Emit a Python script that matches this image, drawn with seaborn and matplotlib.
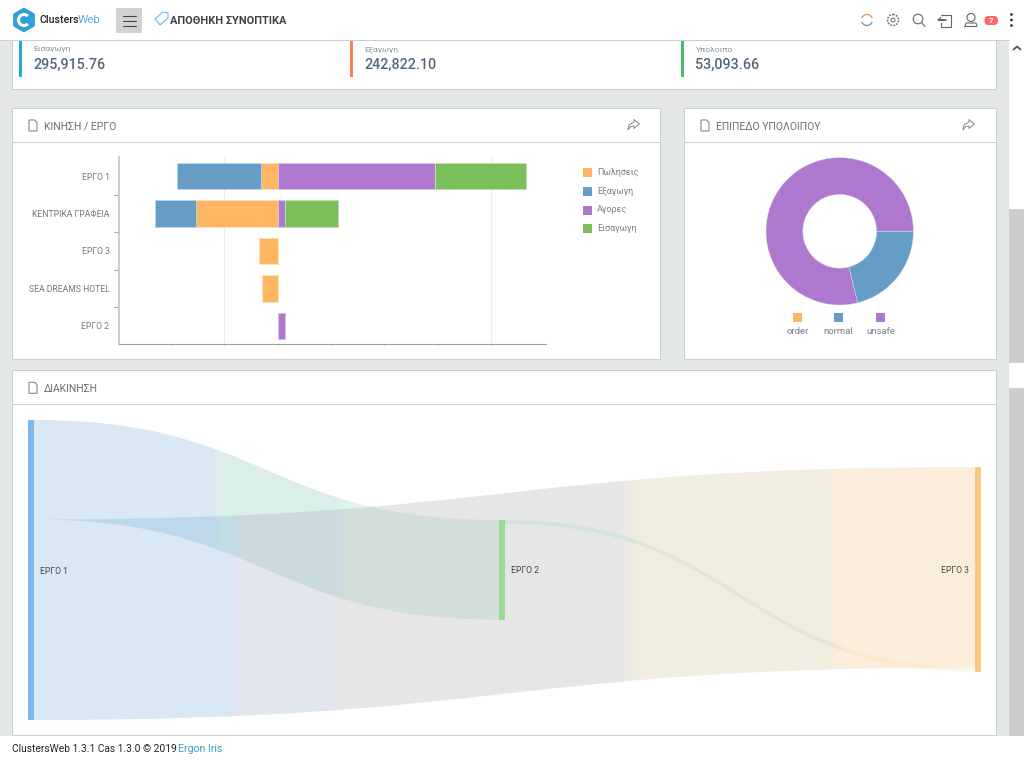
import numpy as np
import pandas as pd
import matplotlib
matplotlib.use("Agg")
import matplotlib.pyplot as plt
import seaborn as sns
from matplotlib.patches import Rectangle, PathPatch, FancyBboxPatch, Circle, RegularPolygon, Arc, Polygon
from matplotlib.path import Path

# totals on the top strip
card_labels = ["Εισαγωγη", "Εξαγωγη", "Υπολοιπο"]
card_values = ["295,915.76", "242,822.10", "53,093.66"]

# stacked bars
projects = ["ΕΡΓΟ 1", "ΚΕΝΤΡΙΚΑ ΓΡΑΦΕΙΑ", "ΕΡΓΟ 3", "SEA DREAMS HOTEL", "ΕΡΓΟ 2"]
sales = [-30600, -152500, -34300, -29600, 0]
exports = [-157600, -76900, 0, 0, 0]
purchases = [294500, 13500, 0, 0, 14400]
imports = [170700, 100400, 0, 0, 0]
bar_ticks = [-200000, -100000, 0, 100000, 200000, 300000, 400000]
bar_grid = [-100000, 400000]
legend_names = ["Πωλησεις", "Εξαγωγη", "Αγορες", "Εισαγωγη"]

# donut
level_names = ["order", "normal", "unsafe"]
level_values = [0, 21.06, 78.94]

# sankey
node_names = ["ΕΡΓΟ 1", "ΕΡΓΟ 2", "ΕΡΓΟ 3"]
flow_source = ["ΕΡΓΟ 1", "ΕΡΓΟ 1", "ΕΡΓΟ 2"]
flow_target = ["ΕΡΓΟ 2", "ΕΡΓΟ 3", "ΕΡΓΟ 3"]
flow_value = [99.5, 200.5, 4.0]

W, H = 1024, 768
ORANGE = "#ffb662"
BLUE = "#669dc7"
PURPLE = "#ae78ce"
GREEN = "#7bbf5b"
BORDER = "#c3d1dc"
PAGE = "#e5e6e6"
TITLE = "#666d73"

sns.set_theme(style="white")
plt.rcParams["font.family"] = ["Roboto", "DejaVu Sans"]


def px_axes(fig, left, top, right, bottom, **kw):
    return fig.add_axes([left / W, 1 - bottom / H, (right - left) / W, (bottom - top) / H], **kw)


def px(size):
    return size * 0.72


def panel(ax, x0, y0, x1, y1, head=None, title=None, share=None):
    ax.add_patch(Rectangle((x0 - 0.7, y0 - 0.7), x1 - x0, y1 - y0, fc="white", ec=BORDER, lw=0.75))
    if head:
        ax.plot([x0 - 0.7, x1 - 0.7], [head - 0.7, head - 0.7], color=BORDER, lw=0.75)
    if title:
        tx = x0 + 16.5
        yc = (y0 + head) / 2
        ax.add_patch(Polygon([(tx, yc - 5.5), (tx + 5.5, yc - 5.5), (tx + 8, yc - 3), (tx + 8, yc + 5.5), (tx, yc + 5.5)],
                             fc="white", ec="#777777", lw=0.7))
        ax.text(x0 + 31.5, yc + 1, title, fontsize=px(10.4), color=TITLE, va="center", ha="left")
    if share:
        ax.plot([share - 6, share - 5, share, share, share + 5.5, share, share, share - 3, share - 6],
                [129.5, 125, 122, 119.5, 124, 128.5, 126, 126.5, 129.5], color="#888888", lw=0.7)


fig = plt.figure(figsize=(W / 100, H / 100), dpi=100, facecolor="white")

# page furniture, drawn in pixel coordinates
bg = px_axes(fig, 0, 0, W, H, zorder=0)
bg.set_xlim(0, W)
bg.set_ylim(H, 0)
bg.axis("off")

bg.add_patch(Rectangle((0, 41), 1009, 695, fc=PAGE, ec="none"))
bg.add_patch(Rectangle((1009, 209), 15, 154, fc="#cdcdcd", ec="none"))
bg.add_patch(Rectangle((1009, 388), 15, 348, fc="#cdcdcd", ec="none"))
bg.plot([1013.5, 1017, 1020.5], [49.5, 46.5, 49.5], color="#555555", lw=1.3)

panel(bg, 12.5, 30, 997, 89.5)
card_x = [19, 350, 681]
card_col = ["#27a9d8", "#ff7e4d", "#4cb870"]
for cx, lab, val, col in zip(card_x, card_labels, card_values, card_col):
    bg.add_patch(Rectangle((cx, 41), 3, 36, fc=col, ec="none"))
    bg.text(cx + 14.5, 49.5, lab, fontsize=px(8.5), color="#8a9298", va="center")
    bg.text(cx + 14.5, 65, val, fontsize=px(14.3), color="#54677a", va="center", fontweight="medium")

panel(bg, 12.5, 108.5, 660.5, 360, 142.5, "ΚΙΝΗΣΗ / ΕΡΓΟ", 634)
panel(bg, 684.5, 108.5, 997, 360, 142.5, "ΕΠΙΠΕΔΟ ΥΠΟΛΟΙΠΟΥ", 969)
panel(bg, 12.5, 371, 997, 735.5, 404.5, "ΔΙΑΚΙΝΗΣΗ")

# header bar
bg.add_patch(Rectangle((0, 0), W, 40, fc="white", ec="none"))
bg.plot([0, 1009], [39.8, 39.8], color=BORDER, lw=0.75)
bg.add_patch(RegularPolygon((24, 20), 6, radius=12.5, fc="#2e9fd8", ec="none"))
bg.add_patch(Arc((24, 20), 11, 11, theta1=45, theta2=315, ec="white", lw=2.2))
bg.text(39, 20, "Clusters", fontsize=px(10.6), color="#222222", va="center", fontweight="medium")
bg.text(78, 20, "Web", fontsize=px(11.5), color="#5aaee0", va="center")
bg.add_patch(FancyBboxPatch((116, 8), 26, 25, boxstyle="round,pad=0,rounding_size=1", fc="#d2d2d2", ec="none"))
for ly in [15.5, 20.5, 25.5]:
    bg.plot([123, 136], [ly, ly], color="#444444", lw=0.8)
bg.add_patch(Polygon([(155, 19), (163, 12), (168, 13), (168, 18), (160, 25)], fc="white", ec="#6cb9e6", lw=0.8))
bg.text(170, 20.5, "ΑΠΟΘΗΚΗ ΣΥΝΟΠΤΙΚΑ", fontsize=px(11), color="#3c4248", va="center", fontweight="bold")

bg.add_patch(Arc((867, 20), 11, 11, theta1=20, theta2=160, ec="#6a8fb0", lw=0.9))
bg.add_patch(Arc((867, 20), 11, 11, theta1=200, theta2=340, ec="#d09a60", lw=0.9))
bg.add_patch(Circle((893, 20), 5.5, fc="white", ec="#8a6a4a", lw=1.1, ls=(0, (1.2, 0.8))))
bg.add_patch(Circle((893, 20), 2, fc="white", ec="#666666", lw=0.7))
bg.add_patch(Circle((918, 19), 4.8, fc="white", ec="#666666", lw=0.8))
bg.plot([921.5, 925], [22.5, 26.5], color="#666666", lw=0.8)
bg.plot([941, 951, 951, 941, 941], [14.5, 14.5, 26.5, 26.5, 23], color="#666666", lw=0.8)
bg.plot([938, 946, 941, 938, 941], [20, 20, 20, 20, 17.5], color="#666666", lw=0.8)
bg.add_patch(Circle((971, 17.5), 4, fc="white", ec="#666666", lw=0.8))
bg.plot([965, 966, 976, 977, 965], [26.5, 23, 23, 26.5, 26.5], color="#666666", lw=0.8)
bg.add_patch(FancyBboxPatch((984.5, 16), 13.5, 9, boxstyle="round,pad=0,rounding_size=4", fc="#f96a6a", ec="none"))
bg.text(991, 20.5, "7", fontsize=px(8), color="white", ha="center", va="center", fontweight="bold")
for dy in [14.5, 20, 25.5]:
    bg.add_patch(Circle((1011.5, dy), 1.4, fc="#2f3a48", ec="none"))

# footer
bg.text(12, 749.5, "ClustersWeb 1.3.1 Cas 1.3.0 © 2019", fontsize=px(10.2), color="#222222", va="center")
bg.text(178.5, 749.5, "Ergon Iris", fontsize=px(10.5), color="#3c9ad6", va="center")

# stacked bars
ax = px_axes(fig, 118.5, 157.5, 545.5, 344.5, zorder=2)
ax.patch.set_visible(False)
df = pd.DataFrame({"project": projects, "sales": sales, "exports": exports,
                   "purchases": purchases, "imports": imports})
for g in bar_grid:
    ax.axvline(g, color="#e8ecee", lw=0.75, zorder=0)
stack = [("sales", None, ORANGE, "#fde0bb"), ("exports", "sales", BLUE, "#bcd5e6"),
         ("purchases", None, PURPLE, "#d8c0e6"), ("imports", "purchases", GREEN, "#bfe0ae")]
for col, base, color, edge in stack:
    # empty segments are dropped, seaborn keeps the category slots through order
    keep = df[col] != 0
    left = df.loc[keep, base].to_numpy(float) if base else np.zeros(keep.sum())
    sns.barplot(data=df[keep], y="project", x=col, order=projects, color=color, saturation=1,
                width=0.71, left=left, edgecolor=edge, linewidth=0.7, ax=ax, zorder=3)
ax.set_xlim(-298000, 502000)
ax.set_ylim(4.5, -0.5)
ax.set_xlabel("")
ax.set_ylabel("")
ax.set_xticks(bar_ticks)
ax.set_xticklabels([])
ax.set_yticks(range(len(projects)))
ax.set_yticklabels(projects, fontsize=px(8.7), color="#74797d")
ax.set_yticks(np.arange(0.5, 4.5), minor=True)
ax.tick_params(axis="y", which="major", length=0, pad=6.5)
ax.tick_params(axis="y", which="minor", length=3.6, width=0.8, color="#aaaaaa", left=True)
ax.tick_params(axis="x", length=1, width=0.7, color="#999999", bottom=True)
sns.despine(ax=ax)
ax.spines["left"].set_color("#c4c4c4")
ax.spines["left"].set_linewidth(1.2)
ax.spines["bottom"].set_color("#a0a0a0")
ax.spines["bottom"].set_linewidth(0.8)

legend_y = [172.5, 191.5, 210, 228.7]
for name, color, ly in zip(legend_names, [ORANGE, BLUE, PURPLE, GREEN], legend_y):
    bg.add_patch(Rectangle((582.5, ly - 4.5), 9, 9, fc=color, ec="none"))
    bg.text(597, ly, name, fontsize=px(9), color="#7b7f83", va="center")

# donut, starts at 3 o'clock and runs clockwise
dax = px_axes(fig, 766, 157.6, 913.4, 305, zorder=2)
dax.pie(level_values, colors=[ORANGE, BLUE, PURPLE], startangle=0, counterclock=False, radius=1,
        wedgeprops={"width": 0.5, "edgecolor": "#d5dfea", "linewidth": 0.3})
dax.set_xlim(-1, 1)
dax.set_ylim(-1, 1)

for name, color, lx in zip(level_names, [ORANGE, BLUE, PURPLE], [797.3, 838.3, 880.7]):
    bg.add_patch(Rectangle((lx - 4.5, 313), 9, 9, fc=color, ec="none"))
    bg.text(lx, 331.5, name, fontsize=px(9.5), color="#7b7f83", ha="center", va="center")

# sankey
node_x = {"ΕΡΓΟ 1": 28, "ΕΡΓΟ 2": 499, "ΕΡΓΟ 3": 975}
node_top = {"ΕΡΓΟ 1": 420, "ΕΡΓΟ 2": 520, "ΕΡΓΟ 3": 467}
node_col = {"ΕΡΓΟ 1": "#7cb8ec", "ΕΡΓΟ 2": "#99d895", "ΕΡΓΟ 3": "#f7c880"}
node_w = 6
out_used = {n: 0.0 for n in node_names}
in_used = {n: 0.0 for n in node_names}


def link_path(x0, x1, y0, y1, thick):
    xm = (x0 + x1) / 2
    verts = [(x0, y0), (xm, y0), (xm, y1), (x1, y1), (x1, y1 + thick), (xm, y1 + thick), (xm, y0 + thick),
             (x0, y0 + thick), (x0, y0)]
    codes = [Path.MOVETO, Path.CURVE4, Path.CURVE4, Path.CURVE4, Path.LINETO, Path.CURVE4, Path.CURVE4, Path.CURVE4,
             Path.CLOSEPOLY]
    return Path(verts, codes)


# banded gradients along each link: pixel x, then rgb at that x
link_bands = [
    ([34, 208, 222, 338, 350, 499],
     [(128, 178, 215), (128, 178, 215), (140, 200, 185), (140, 200, 185), (155, 220, 195), (155, 220, 195)]),
    ([34, 227, 240, 333, 345, 619, 640, 825, 845, 975],
     [(128, 178, 215), (128, 178, 215), (160, 172, 200), (160, 172, 200), (172, 172, 172), (172, 172, 172),
      (212, 195, 155), (212, 195, 155), (242, 198, 142), (242, 198, 142)]),
    ([505, 625, 680, 830, 855, 975],
     [(166, 220, 190), (166, 220, 190), (198, 217, 165), (198, 217, 165), (241, 225, 178), (241, 225, 178)]),
]
for src, dst, val, (stops, cols) in zip(flow_source, flow_target, flow_value, link_bands):
    x0 = node_x[src] + node_w
    x1 = node_x[dst]
    y0 = node_top[src] + out_used[src]
    y1 = node_top[dst] + in_used[dst]
    out_used[src] += val
    in_used[dst] += val
    path = link_path(x0, x1, y0, y1, val)
    xs = np.arange(x0, x1 + 1)
    cols = np.array(cols, float)
    rgba = np.ones((1, len(xs), 4))
    for c in range(3):
        rgba[0, :, c] = np.interp(xs, stops, cols[:, c]) / 255
    rgba[0, :, 3] = 0.3
    im = bg.imshow(rgba, extent=(x0, x1, 735, 405), aspect="auto", interpolation="nearest", zorder=3)
    im.set_clip_path(PathPatch(path, transform=bg.transData))

bg.set_xlim(0, W)
bg.set_ylim(H, 0)
for n in node_names:
    height = max(out_used[n], in_used[n])
    bg.add_patch(Rectangle((node_x[n], node_top[n]), node_w, height, fc=node_col[n], ec="none", zorder=4))

bg.text(40, 571.5, node_names[0], fontsize=px(8.7), color="#444444", va="center", zorder=5)
bg.text(511, 570.5, node_names[1], fontsize=px(8.7), color="#444444", va="center", zorder=5)
bg.text(969, 570.5, node_names[2], fontsize=px(8.7), color="#444444", va="center", ha="right", zorder=5)

fig.savefig("out.png", dpi=100)
